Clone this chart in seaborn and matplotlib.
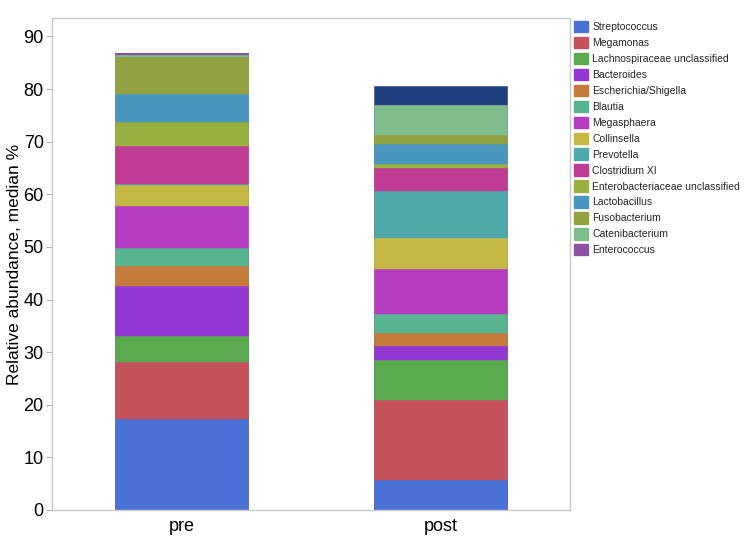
import matplotlib
matplotlib.use("Agg")
import matplotlib.pyplot as plt
from matplotlib.patches import Patch
import seaborn as sns
import numpy as np

timepoints = ["pre", "post"]
genera = ["Streptococcus", "Megamonas", "Lachnospiraceae unclassified", "Bacteroides",
          "Escherichia/Shigella", "Blautia", "Megasphaera", "Collinsella", "Prevotella",
          "Clostridium XI", "Enterobacteriaceae unclassified", "Lactobacillus",
          "Fusobacterium", "Catenibacterium", "Enterococcus", "Other"]
pre = [17.2, 11.0, 4.8, 9.6, 3.8, 3.3, 8.0, 4.0, 0.3, 7.1, 4.6, 5.4, 7.0, 0.3, 0.5, 0.0]
post = [5.7, 15.2, 7.7, 2.6, 2.5, 3.6, 8.5, 5.9, 8.9, 4.4, 0.7, 3.9, 1.6, 5.7, 0.1, 3.6]
colors = ["#4a72d6", "#c4525b", "#5aaa4f", "#9138d2", "#c47a3b", "#58b48f", "#b63dc1",
          "#c5b946", "#50a9a9", "#c03c95", "#98b040", "#4896bd", "#93a142", "#7fbd8d",
          "#8a52a3", "#1f3f7e"]

fig = plt.figure(figsize=(7.5, 5.46), dpi=100)
ax = fig.add_axes([52 / 750, 36 / 546, 518 / 750, 492 / 546])
sns.set_style("white")
plt.rcParams["font.family"] = ["Liberation Sans", "DejaVu Sans"]

cum_pre = np.cumsum(pre)
cum_post = np.cumsum(post)
# draw from the top layer down so each cumulative bar covers the ones above it
for i in range(len(genera) - 1, -1, -1):
    sns.barplot(x=timepoints, y=[cum_pre[i], cum_post[i]], color=colors[i],
                width=0.515, saturation=1, edgecolor=colors[i], linewidth=0.4, ax=ax)

ax.set_xlim(-0.5, 1.5)
ax.set_ylim(0, 93.5)
ax.set_yticks(range(0, 91, 10))
ax.set_ylabel("Relative abundance, median %", fontsize=12.5, family="Liberation Sans",
              labelpad=1)
ax.set_xlabel("")
for lab in ax.get_xticklabels() + ax.get_yticklabels():
    lab.set_fontsize(13)
    lab.set_family("Liberation Sans")
ax.tick_params(axis="y", length=4, color="#b0b0b0", left=True, pad=2)
ax.tick_params(axis="x", length=0, pad=6)
for s in ax.spines.values():
    s.set_color("#c8c8c8")
    s.set_linewidth(1)

handles = [Patch(facecolor=colors[i], edgecolor=colors[i], label=genera[i]) for i in range(15)]
fig.legend(handles=handles, loc="upper left", bbox_to_anchor=(574 / 750, 1 - 21 / 546),
           frameon=False, handlelength=1.3, handleheight=1.3,
           labelspacing=0.44, handletextpad=0.45, borderpad=0, borderaxespad=0,
           prop={"family": "Liberation Sans", "size": 7.5})

fig.savefig("out.png", dpi=100)
